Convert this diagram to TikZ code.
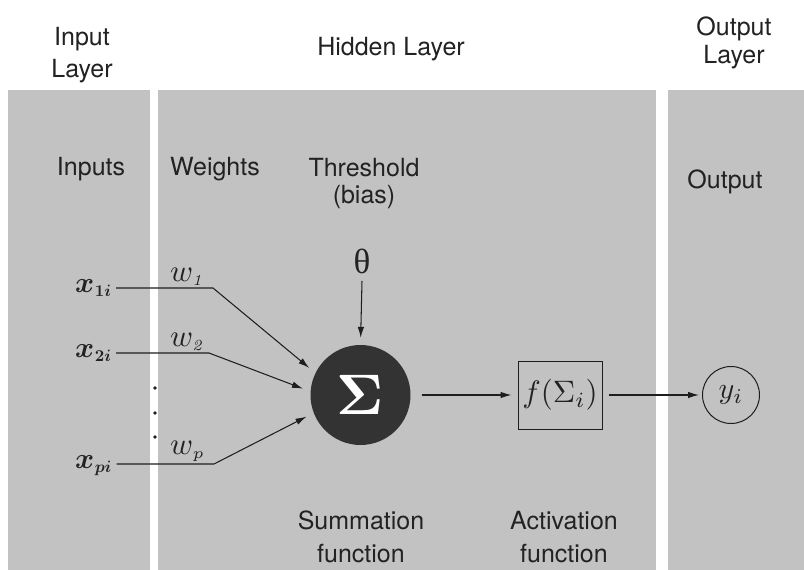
\documentclass[tikz,border=0pt]{standalone}
\usepackage{graphicx}
\usepackage{bm}
\usepackage[no-math]{fontspec}
\setmainfont{TeX Gyre Heros}
\newfontfamily\serifgr{Liberation Serif}
\usetikzlibrary{arrows.meta}
\definecolor{panelgray}{RGB}{194,194,194}
\definecolor{txt}{RGB}{34,34,34}
\definecolor{wirec}{RGB}{30,30,30}
\definecolor{sumc}{RGB}{51,51,51}
\newcommand{\scmath}[2]{\scalebox{#1}{\fontsize{10}{12}\selectfont$#2$}}
\newcommand{\xin}[1]{\scmath{2.9}{\bm{x}}\kern0.5pt\raisebox{-4pt}{\scmath{1.65}{\bm{#1}}}}
\begin{document}
\begin{tikzpicture}[x=1pt,y=-1pt,
  panel/.style={fill=panelgray,draw=none},
  lab/.style={font=\fontsize{25}{32}\selectfont,text=txt,align=center,anchor=base,inner sep=0pt},
  labtight/.style={lab,font=\fontsize{25}{28}\selectfont},
  mathlab/.style={inner sep=0pt,anchor=base west,text=txt},
  wire/.style={line width=1.05pt,draw=wirec},
  arr/.style={wire,-{Latex[length=11pt,width=6.5pt]}},
]
\useasboundingbox (0,0) rectangle (804,570);
\fill[white] (0,0) rectangle (804,570);
% panels
\fill[panel] (8,90) rectangle (150,570);
\fill[panel] (158,90) rectangle (656,570);
\fill[panel] (668,90) rectangle (804,570);
% headings (base = baseline of last line)
\node[lab] (inl) at (82,77) {Input\\Layer};
\node[lab] (hid) at (391,55) {Hidden Layer};
\node[labtight] (outl) at (734,63) {Output\\Layer};
\node[lab] (inputs) at (91,175) {Inputs};
\node[lab] (weights) at (215,175) {Weights};
\node[labtight,font=\fontsize{25}{27}\selectfont] (thr) at (364,203) {Threshold\\(bias)};
\node[lab] (outp) at (725,188) {Output};
\node[lab,font=\fontsize{25}{33}\selectfont] (sumlab) at (361,562) {Summation\\function};
\node[lab,font=\fontsize{25}{33}\selectfont] (actlab) at (564,562) {Activation\\function};
% inputs
\node[mathlab] (inA) at (75,292) {\xin{1i}};
\node[mathlab] (inB) at (75,357) {\xin{2i}};
\node[mathlab] (inP) at (75,468) {\xin{pi}};
% weights
\node[mathlab] (wA) at (170,281) {\scmath{3.1}{w_{\scriptscriptstyle\mathit{1}}}};
\node[mathlab] (wB) at (170,346) {\scmath{3.1}{w_{\scriptscriptstyle\mathit{2}}}};
\node[mathlab] (wP) at (170,454) {\scmath{3.1}{w_{\scriptscriptstyle p}}};
% dots
\fill[wirec] (155,388) circle (1.8pt);
\fill[wirec] (155,413) circle (1.8pt);
\fill[wirec] (155,437) circle (1.8pt);
% summation
\node[circle,fill=sumc,minimum size=100pt,inner sep=0pt,text=white] (sum) at (360.5,395) {\scmath{5.7}{\bm{\Sigma}}};
\node[inner sep=0pt,anchor=base,text=txt,font=\serifgr\fontsize{35}{35}\selectfont] (th) at (362,273) {θ};
% activation
\node[draw=wirec,line width=1pt,minimum width=84pt,minimum height=68pt,inner sep=0pt,text=txt] (act) at (560,395) {\scmath{3.1}{f(\Sigma_i)}};
\node[circle,draw=wirec,line width=1pt,minimum size=57pt,inner sep=0pt,text=txt] (yo) at (731,395) {\scmath{3}{y_i}};
% kinks
\coordinate (kA) at (213,288);
\coordinate (kB) at (209,353);
\coordinate (kP) at (214,464);
% connectors
\draw[arr,shorten >=8pt] ([shift={(5,-4)}]inA.base east) -- (kA) -- (sum.154);
\draw[arr,shorten >=8pt] ([shift={(5,-4)}]inB.base east) -- (kB) -- (sum.176);
\draw[arr,shorten >=8pt] ([shift={(5,-4)}]inP.base east) -- (kP) -- (sum.201);
\draw[arr,shorten >=7pt] ([yshift=-8pt]th.base) -- (sum.north);
\draw[arr,shorten <=11pt,shorten >=6pt] (sum.east) -- (act.west);
\draw[arr,shorten <=6pt,shorten >=3pt] (act.east) -- (yo.west);
\end{tikzpicture}
\end{document}
